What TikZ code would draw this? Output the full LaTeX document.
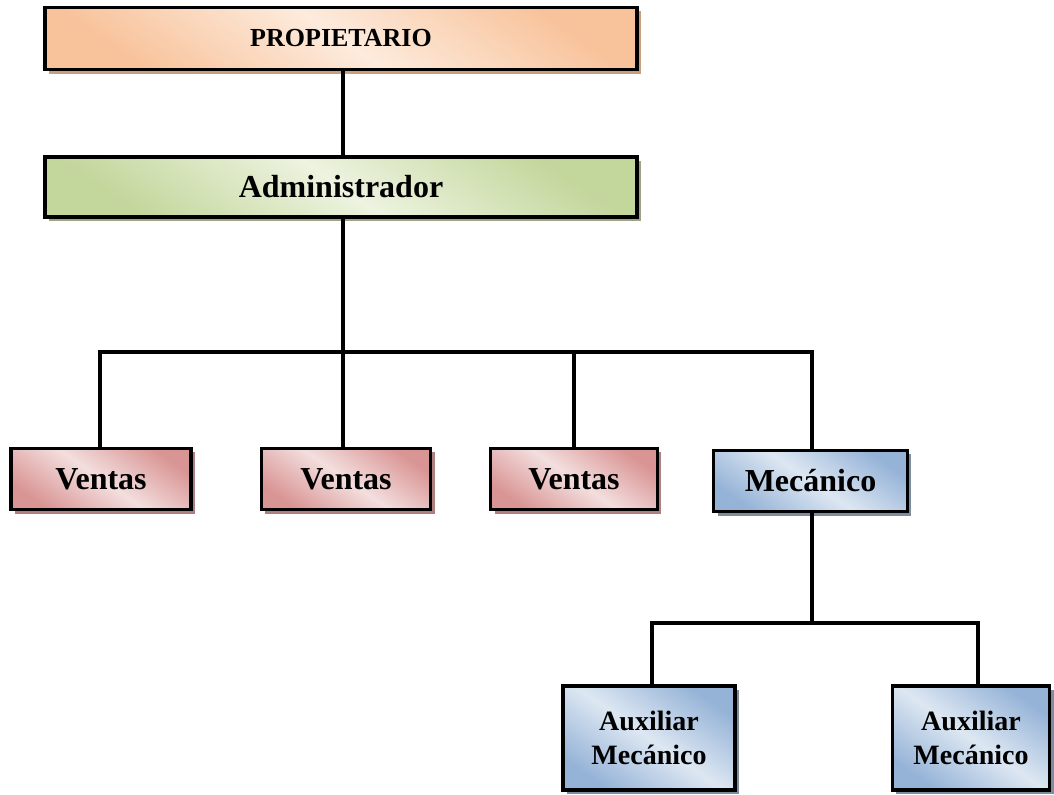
\documentclass[tikz,border=0pt]{standalone}
\usepackage{fontspec}
\setmainfont{Liberation Serif}
\usetikzlibrary{shadows}

\definecolor{orangedark}{HTML}{F8C29A}
\definecolor{orangelight}{HTML}{FDEBDD}
\definecolor{orangeshadow}{HTML}{C9A07F}
\definecolor{greendark}{HTML}{C3D69B}
\definecolor{greenlight}{HTML}{EDF3E0}
\definecolor{greenshadow}{HTML}{9DA485}
\definecolor{reddark}{HTML}{D99594}
\definecolor{redlight}{HTML}{F3DEDE}
\definecolor{redshadow}{HTML}{AE8080}
\definecolor{bluedark}{HTML}{95B3D7}
\definecolor{bluelight}{HTML}{DDE7F2}
\definecolor{blueshadow}{HTML}{7D8DA1}

\tikzset{
  cargo/.style n args={3}{draw=black, line width=2.4pt, rectangle, align=center,
    font=\bfseries\fontsize{24}{25.5}\selectfont,
    top color=#1, bottom color=#1, middle color=#2, shading angle=-35,
    drop shadow={shadow xshift=3pt, shadow yshift=-3pt, fill=#3, opacity=1}},
  orgbox/.style={cargo={orangedark}{orangelight}{orangeshadow}},
  admbox/.style={cargo={greendark}{greenlight}{greenshadow}},
  venbox/.style={cargo={reddark}{redlight}{redshadow}},
  mecbox/.style={cargo={bluedark}{bluelight}{blueshadow}},
  linea/.style={line width=3pt}
}

\begin{document}
\begin{tikzpicture}[x=0.75pt,y=-0.75pt]
  \useasboundingbox (0,0) rectangle (1054,795);

  \node[orgbox, minimum width=444pt, minimum height=47pt,
        font=\bfseries\fontsize{19.5}{21}\selectfont] (prop) at (341,38.5) {PROPIETARIO};
  \node[admbox, minimum width=444pt, minimum height=45pt] (admin) at (341,187) {Administrador};

  \node[venbox, minimum width=135pt, minimum height=46pt] (v1) at (101,479) {Ventas};
  \node[venbox, minimum width=127pt, minimum height=46pt] (v2) at (346,479) {Ventas};
  \node[venbox, minimum width=125pt, minimum height=46pt] (v3) at (574,479) {Ventas};
  \node[mecbox, minimum width=145pt, minimum height=46pt] (mec) at (810.5,481) {Mecánico};

  \node[mecbox, minimum width=129pt, minimum height=78pt,
        font=\bfseries\fontsize{21}{25.5}\selectfont] (aux1) at (649,738) {Auxiliar\\Mecánico};
  \node[mecbox, minimum width=118pt, minimum height=78pt,
        font=\bfseries\fontsize{21}{25.5}\selectfont] (aux2) at (971,738) {Auxiliar\\Mecánico};

  \coordinate (bus) at (343,352);
  \coordinate (bus2) at (812,623);

  \draw[linea] (prop.south -| bus) -- (admin.north -| bus);
  \draw[linea] (admin.south -| bus) -- (bus);
  \draw[linea] ([xshift=-1pt]v1.north) |- (bus) -| ([xshift=1pt]mec.north);
  \draw[linea] (v2.north -| bus) -- (bus);
  \draw[linea] (v3.north) -- (v3.north |- bus);
  \draw[linea] (mec.south -| bus2) -- (bus2);
  \draw[linea] ([xshift=2pt]aux1.north) |- (bus2) -| ([xshift=5pt]aux2.north);
\end{tikzpicture}
\end{document}
